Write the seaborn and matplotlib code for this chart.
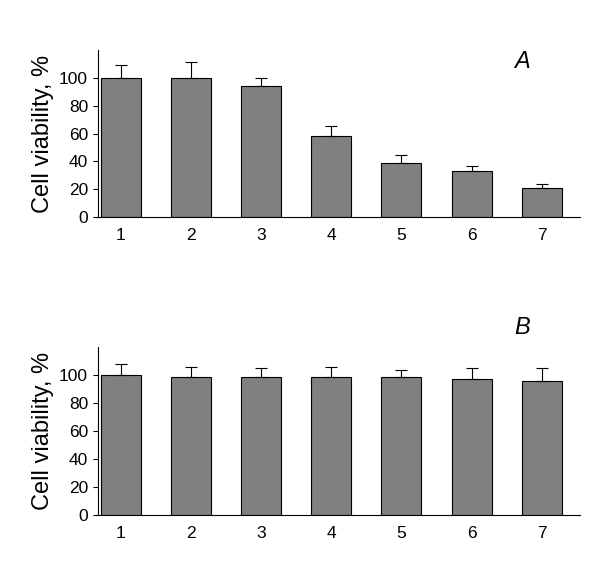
import matplotlib
matplotlib.use("Agg")
import matplotlib.pyplot as plt
import seaborn as sns
import pandas as pd

categories = ["1", "2", "3", "4", "5", "6", "7"]
values_a = [100, 100, 94, 58.5, 38.5, 33, 21]
errors_a = [9, 11, 5.5, 7, 6, 4, 3]
values_b = [100, 99, 99, 99, 98.5, 97.5, 96]
errors_b = [8, 7, 6.5, 7, 5, 8, 9]

plt.rcParams["font.family"] = "Liberation Sans"
fig = plt.figure(figsize=(6, 5.61), dpi=100)
panels = [(values_a, errors_a, "A", [0.163, 0.613, 0.804, 0.298]),
          (values_b, errors_b, "B", [0.163, 0.082, 0.804, 0.299])]
for vals, errs, lab, rect in panels:
    ax = fig.add_axes(rect)
    df = pd.DataFrame({"cat": categories, "val": vals})
    sns.barplot(data=df, x="cat", y="val", color="#808080", saturation=1,
                edgecolor="black", linewidth=0.8, width=0.57, ax=ax)
    ax.errorbar(range(len(categories)), vals, yerr=[[0]*len(errs), errs],
                fmt="none", ecolor="black", elinewidth=0.8, capsize=4, capthick=0.8)
    ax.set_ylim(0, 120)
    ax.set_xlim(-0.33, 6.55)
    ax.set_yticks([0, 20, 40, 60, 80, 100])
    ax.set_xlabel("")
    ax.set_ylabel("Cell viability, %", fontsize=17)
    ax.tick_params(axis="both", labelsize=12.5)
    ax.tick_params(axis="x", length=0, pad=8)
    for s in ["top", "right"]:
        ax.spines[s].set_visible(False)
    ax.text(0.88, 1.0 if lab == "A" else 1.05, lab, transform=ax.transAxes,
            fontsize=17, style="italic", ha="center", va="top" if lab == "A" else "bottom")
fig.savefig("out.png", dpi=100)
